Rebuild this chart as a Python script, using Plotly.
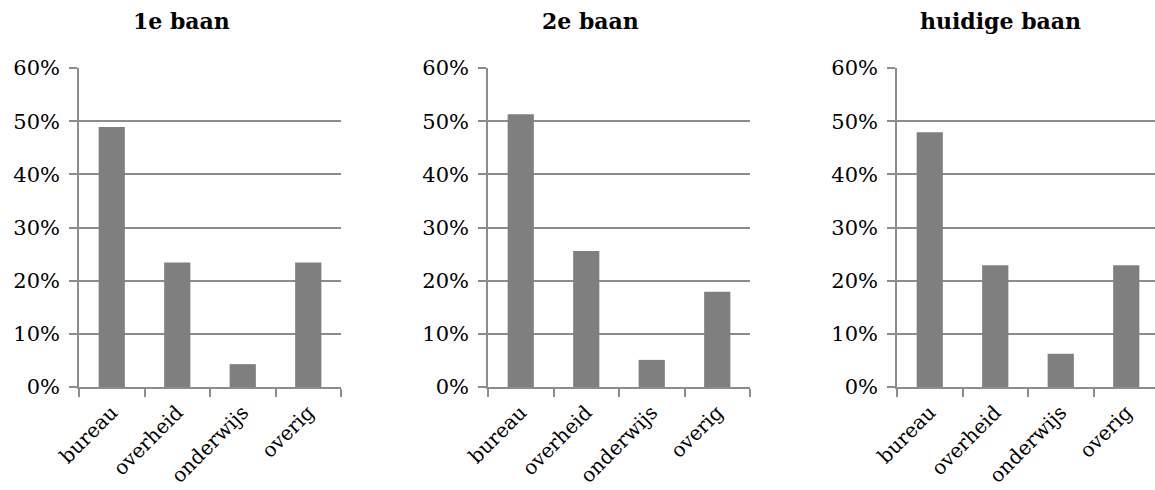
import plotly.graph_objects as go

categories = ["bureau", "overheid", "onderwijs", "overig"]
titles = ["1e baan", "2e baan", "huidige baan"]
eerste_baan = [0.489, 0.234, 0.043, 0.234]
tweede_baan = [0.513, 0.256, 0.051, 0.179]
huidige_baan = [0.479, 0.229, 0.0625, 0.229]
series = [eerste_baan, tweede_baan, huidige_baan]

W, H = 1155, 490
FONT = "DejaVu Serif"
GRID = "#8c8c8c"
BAR = "#7f7f7f"

# pixel layout of each panel (left, right) and titles centre
panels_px = [(79, 341), (488, 750), (897, 1159)]
title_x_px = [181, 590, 1000]
y_bottom_px, y_top_px = 387, 68

fig = go.Figure()
for i, vals in enumerate(series):
    n = i + 1
    xa = "x" if n == 1 else f"x{n}"
    ya = "y" if n == 1 else f"y{n}"
    fig.add_trace(go.Bar(
        x=categories, y=vals, xaxis=xa, yaxis=ya,
        marker=dict(color=BAR, line=dict(width=0)),
        width=0.4, showlegend=False,
    ))
    left, right = panels_px[i]
    cat_w = (right - left) / 4.0
    d0 = left / W
    if right <= W:
        d1 = right / W
        xr = [-0.5, 3.5]
    else:
        d1 = 1.0
        xr = [-0.5, -0.5 + (W - left) / cat_w]
    xkey = "xaxis" if n == 1 else f"xaxis{n}"
    ykey = "yaxis" if n == 1 else f"yaxis{n}"
    fig.layout[xkey] = dict(
        domain=[d0, d1], anchor=ya, range=xr, type="category",
        showgrid=False, showline=True, linecolor=GRID, linewidth=1.5,
        ticks="outside", ticklen=8, tickcolor=GRID, tickwidth=1.5,
        tickson="boundaries", tickangle=-45, ticklabelstandoff=4,
        tickfont=dict(family=FONT, size=20, color="#000"),
        automargin=False, fixedrange=True,
    )
    fig.layout[ykey] = dict(
        domain=[1 - y_bottom_px / H, 1 - y_top_px / H], anchor=xa,
        range=[0, 0.6], dtick=0.1, tickformat=".0%",
        showgrid=True, gridcolor=GRID, gridwidth=1.5,
        showline=True, linecolor=GRID, linewidth=1.5,
        ticks="outside", ticklen=8, tickcolor=GRID, tickwidth=1.5,
        ticklabelstandoff=5, zeroline=False,
        tickfont=dict(family=FONT, size=21, color="#000"),
        automargin=False, fixedrange=True,
    )
    fig.add_annotation(
        text=f"<b>{titles[i]}</b>", xref="paper", yref="paper",
        x=title_x_px[i] / W, y=1 - 21 / H, xanchor="center", yanchor="middle",
        showarrow=False, font=dict(family=FONT, size=22, color="#000"),
    )

fig.update_layout(
    width=W, height=H, margin=dict(l=0, r=0, t=0, b=0),
    paper_bgcolor="white", plot_bgcolor="white", bargap=0.6,
)
fig.write_html(
    "out.html",
    config={"displayModeBar": False},
    post_script="document.body.style.margin='0px';document.body.style.padding='0px';",
)
